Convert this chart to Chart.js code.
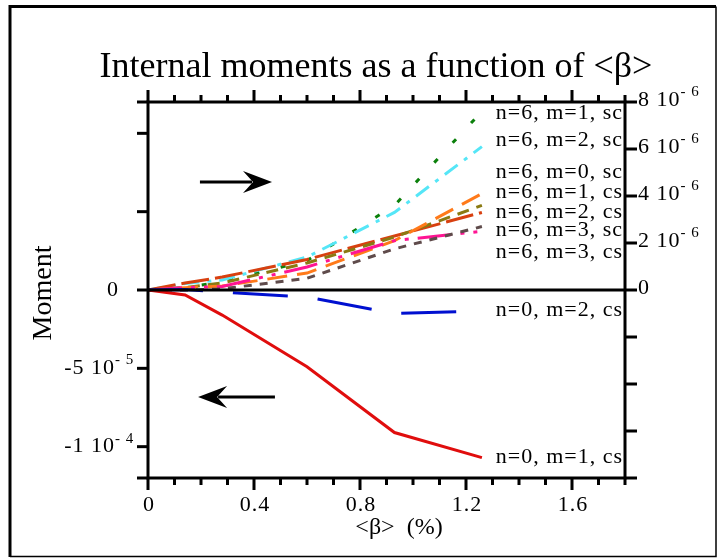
<!DOCTYPE html>
<html>
<head>
<meta charset="utf-8">
<script src="https://cdn.jsdelivr.net/npm/chart.js@4/dist/chart.umd.min.js"></script>
<style>
  html, body { margin: 0; padding: 0; background: #fff; }
  #wrap { width: 717px; height: 558px; position: relative; }
</style>
</head>
<body>
<div id="wrap"><canvas id="chart"></canvas></div>
<script>
// <beta> in %, moments in units of 1e-6
const beta = [0, 0.14, 0.28, 0.6, 0.93, 1.26];

// left axis (n=0)
const n0m1cs = [0, -3.2, -16, -49, -91, -107];
const n0m2cs = [0, 0.3, -1.3, -4.5, -15, -13.5];

// right axis (n=6)
const n6m1sc = [0, 0.1, 0.35, 1.25, 3.6, 7.6];
const n6m2sc = [0, 0.28, 0.43, 1.4, 3.3, 6.1];
const n6m0sc = [0, 0.1, 0.17, 0.72, 2.1, 4.1];
const n6m1cs = [0, 0.1, 0.3, 1.15, 2.25, 3.6];
const n6m2cs = [0, 0.3, 0.55, 1.3, 2.3, 3.3];
const n6m3sc = [0, 0, 0.05, 0.5, 1.75, 2.7];
const n6m3cs = [0, 0.1, 0.15, 0.98, 2.1, 2.5];

const xTicks = [0, 0.4, 0.8, 1.2, 1.6];
const leftTicks = [0, -50, -100];
const rightTicks = [0, 2, 4, 6, 8];

const SERIF = '"Liberation Serif", "Times New Roman", serif';

const pts = (ys) => beta.map((b, i) => ({ x: b, y: ys[i] }));

function line(label, ys, color, dash, axis) {
  return {
    label, data: pts(ys), yAxisID: axis,
    borderColor: color, borderWidth: 3, borderDash: dash,
    borderCapStyle: 'butt', pointRadius: 0, tension: 0, fill: false
  };
}

// labels next to the curves: [text, axis, value]
const curveLabels = [
  ['n=6, m=1, sc', 'y1', 7.28],
  ['n=6, m=2, sc', 'y1', 6.13],
  ['n=6, m=0, sc', 'y1', 4.77],
  ['n=6, m=1, cs', 'y1', 3.91],
  ['n=6, m=2, cs', 'y1', 3.06],
  ['n=6, m=3, sc', 'y1', 2.30],
  ['n=6, m=3, cs', 'y1', 1.36],
  ['n=0, m=2, cs', 'y', -16.6],
  ['n=0, m=1, cs', 'y', -110.5]
];

function arrow(ctx, x0, x1, y) {
  const dir = Math.sign(x1 - x0);
  ctx.save();
  ctx.strokeStyle = '#000';
  ctx.fillStyle = '#000';
  ctx.lineWidth = 3;
  ctx.beginPath();
  ctx.moveTo(x0, y);
  ctx.lineTo(x1 - dir * 20, y);
  ctx.stroke();
  ctx.beginPath();
  ctx.moveTo(x1, y);
  ctx.lineTo(x1 - dir * 29, y - 11);
  ctx.lineTo(x1 - dir * 19, y);
  ctx.lineTo(x1 - dir * 29, y + 11);
  ctx.closePath();
  ctx.fill();
  ctx.restore();
}

const decor = {
  id: 'decor',
  afterDraw(chart) {
    const ctx = chart.ctx;
    const a = chart.chartArea;
    const sx = chart.scales.x, sy = chart.scales.y, sy1 = chart.scales.y1;
    ctx.save();

    // outer frame
    ctx.strokeStyle = '#000';
    ctx.lineWidth = 3;
    ctx.beginPath();
    ctx.moveTo(10, 557); ctx.lineTo(10, 6.5); ctx.lineTo(716, 6.5);
    ctx.stroke();
    ctx.lineWidth = 1.5;
    ctx.beginPath();
    ctx.moveTo(10, 556.5); ctx.lineTo(716, 556.5); ctx.lineTo(716, 6.5);
    ctx.stroke();

    // title
    ctx.fillStyle = '#000';
    ctx.font = '36px ' + SERIF;
    ctx.textAlign = 'center';
    ctx.textBaseline = 'alphabetic';
    ctx.fillText('Internal moments as a function of <\u03B2>', 376, 77);

    // plot box
    ctx.lineWidth = 3;
    ctx.strokeRect(a.left, a.top, a.right - a.left, a.bottom - a.top);

    // zero line
    const y0 = sy.getPixelForValue(0);
    ctx.beginPath();
    ctx.moveTo(a.left, y0); ctx.lineTo(a.right, y0);
    ctx.stroke();

    // x ticks (bottom + top), major every 0.4, minor every 0.1
    for (let k = 0; k <= 18; k++) {
      const px = sx.getPixelForValue(k / 10);
      const len = (k % 4 === 0) ? 12 : 7;
      ctx.beginPath();
      ctx.moveTo(px, a.bottom); ctx.lineTo(px, a.bottom + len);
      ctx.moveTo(px, a.top); ctx.lineTo(px, a.top - len);
      ctx.stroke();
    }
    // left ticks
    [-120, -100, -50, 0, 50, 100, 120].forEach(v => {
      const py = sy.getPixelForValue(v);
      ctx.beginPath();
      ctx.moveTo(a.left - 11, py); ctx.lineTo(a.left, py);
      ctx.stroke();
    });
    // right ticks
    for (let v = -8; v <= 8; v += 2) {
      const py = sy1.getPixelForValue(v);
      ctx.beginPath();
      ctx.moveTo(a.right, py); ctx.lineTo(a.right + 12, py);
      ctx.stroke();
    }

    ctx.letterSpacing = '1px';

    // x tick labels
    ctx.font = '22px ' + SERIF;
    ctx.textAlign = 'center';
    xTicks.forEach(v => {
      ctx.fillText(String(v), sx.getPixelForValue(v) + 1, 511);
    });

    // left tick labels
    ctx.textBaseline = 'middle';
    leftTicks.forEach(v => {
      const py = sy.getPixelForValue(v);
      ctx.font = '22px ' + SERIF;
      ctx.textAlign = 'right';
      if (v === 0) {
        ctx.fillText('0', 119, py);
      } else {
        const e = Math.floor(Math.log10(-v));
        const mant = v / Math.pow(10, e);
        ctx.fillText(mant + ' 10', 115, py);
        ctx.font = '15px ' + SERIF;
        ctx.textAlign = 'left';
        ctx.fillText('- ' + (6 - e), 115, py - 8);
      }
    });

    // right tick labels
    rightTicks.forEach(v => {
      const py = sy1.getPixelForValue(v) - 2;
      ctx.font = '22px ' + SERIF;
      ctx.textAlign = 'left';
      if (v === 0) {
        ctx.fillText('0', 638, py);
      } else {
        ctx.fillText(v + ' 10', 638, py);
        const w = ctx.measureText(v + ' 10').width;
        ctx.font = '15px ' + SERIF;
        ctx.fillText('- 6', 638 + w, py - 8);
      }
    });

    // curve labels
    ctx.textBaseline = 'alphabetic';
    ctx.font = '22px ' + SERIF;
    ctx.textAlign = 'right';
    curveLabels.forEach(([t, axis, v]) => {
      const py = chart.scales[axis].getPixelForValue(v);
      ctx.fillText(t, 623, py);
    });

    ctx.letterSpacing = '0px';

    // axis titles
    ctx.font = '24px ' + SERIF;
    ctx.textAlign = 'center';
    ctx.fillText('<\u03B2>  (%)', 399, 534);
    ctx.save();
    ctx.translate(51, 293);
    ctx.rotate(-Math.PI / 2);
    ctx.font = '28px ' + SERIF;
    ctx.fillText('Moment', 0, 0);
    ctx.restore();

    // direction arrows
    arrow(ctx, sx.getPixelForValue(0.196), sx.getPixelForValue(0.468), sy1.getPixelForValue(4.6));
    arrow(ctx, sx.getPixelForValue(0.479), sx.getPixelForValue(0.189), sy.getPixelForValue(-68.3));

    ctx.restore();
  }
};

new Chart(document.getElementById('chart'), {
  type: 'line',
  data: {
    datasets: [
      line('n=0, m=1, cs', n0m1cs, '#e00d0d', [], 'y'),
      line('n=0, m=2, cs', n0m2cs, '#0010d0', [55, 30], 'y'),
      line('n=6, m=3, sc', n6m3sc, '#5f4b4b', [8, 8], 'y1'),
      line('n=6, m=3, cs', n6m3cs, '#ff1493', [34, 9, 4, 9, 4, 9], 'y1'),
      line('n=6, m=0, sc', n6m0sc, '#ff7a1a', [20, 10], 'y1'),
      line('n=6, m=1, cs', n6m1cs, '#8a7a12', [12, 8], 'y1'),
      line('n=6, m=2, cs', n6m2cs, '#d84010', [28, 6], 'y1'),
      line('n=6, m=2, sc', n6m2sc, '#55e6f7', [16, 8, 4, 8], 'y1'),
      line('n=6, m=1, sc', n6m1sc, '#0b800b', [5, 22], 'y1')
    ]
  },
  options: {
    responsive: true,
    maintainAspectRatio: false,
    animation: false,
    layout: { padding: { left: 148, top: 102, right: 92, bottom: 80 } },
    plugins: { legend: { display: false }, tooltip: { enabled: false } },
    scales: {
      x: { type: 'linear', min: 0, max: 1.8, display: false },
      y: { type: 'linear', position: 'left', min: -120, max: 120, display: false },
      y1: { type: 'linear', position: 'right', min: -8, max: 8, display: false }
    }
  },
  plugins: [decor]
});
</script>
</body>
</html>
